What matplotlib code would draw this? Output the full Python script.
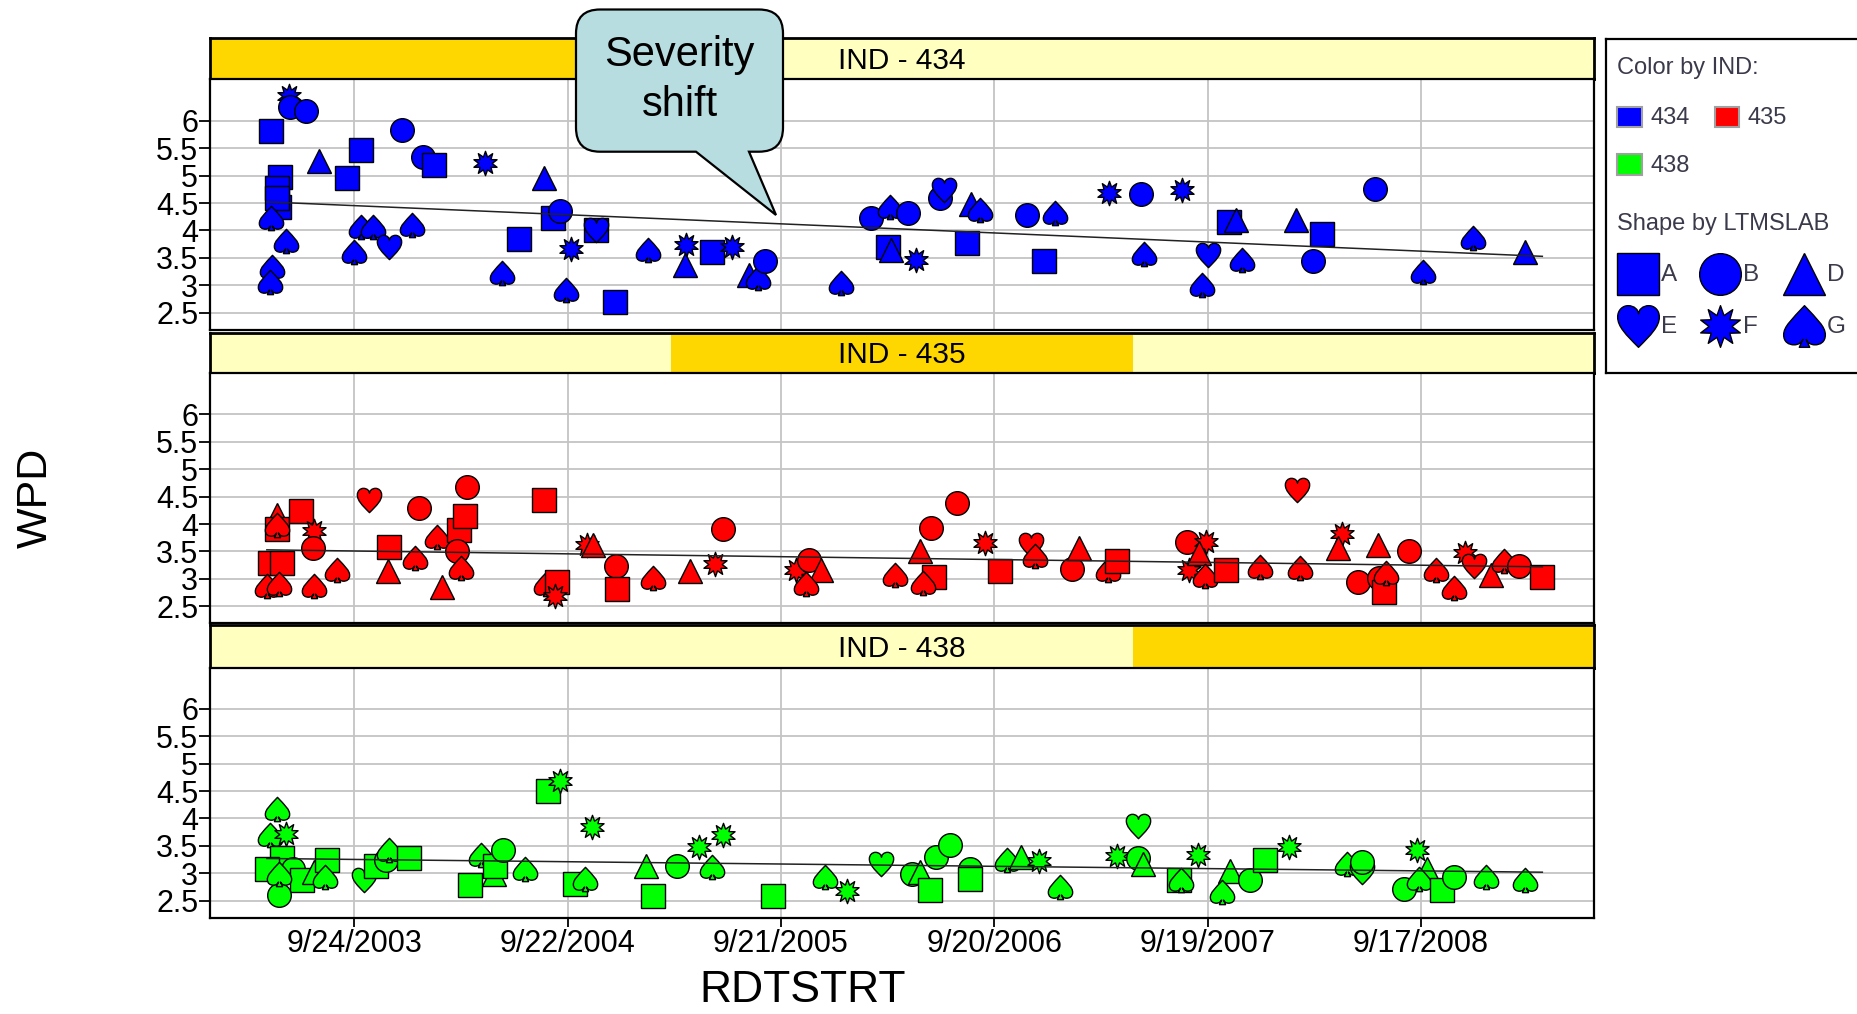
import matplotlib
matplotlib.use("Agg")
import matplotlib.pyplot as plt
import matplotlib.dates as mdates
from matplotlib.path import Path
from matplotlib.patches import PathPatch, Rectangle
import numpy as np
import pandas as pd

plt.rcParams['font.family'] = ['Liberation Sans', 'DejaVu Sans']

# ---------------- data ----------------
dates_434 = [
    '2003-06-05', '2003-06-07', '2003-07-03', '2003-05-05', '2003-12-15', '2003-10-05', '2003-07-26', '2004-01-20', '2004-02-07', '2004-05-05',
    '2004-08-13', '2003-09-11', '2003-05-21', '2003-05-15', '2003-05-18', '2003-05-16', '2003-05-05', '2003-05-30', '2003-05-07', '2003-05-04',
    '2003-10-06', '2003-10-26', '2004-01-01', '2003-09-24', '2003-11-22', '2004-06-02', '2004-07-02', '2004-08-28', '2004-09-09', '2004-09-28',
    '2004-09-19', '2004-12-12', '2004-11-10', '2004-11-10', '2005-02-07', '2005-04-12', '2005-04-11', '2005-05-27', '2005-06-29', '2005-07-28',
    '2005-08-13', '2005-08-25', '2006-01-01', '2006-02-22', '2006-03-26', '2006-04-26', '2006-03-23', '2006-03-28', '2006-05-10', '2006-06-20',
    '2006-06-27', '2006-08-11', '2006-08-26', '2006-08-04', '2006-11-15', '2007-01-01', '2006-12-13', '2007-04-03', '2007-05-28', '2007-08-06',
    '2007-06-03', '2007-09-20', '2007-09-09', '2007-11-16', '2007-10-25', '2007-11-07', '2008-02-17', '2008-04-01', '2008-03-17', '2008-07-01',
    '2008-09-21', '2008-12-14', '2009-03-14']
wpd_434 = [
    6.44, 6.24, 6.18, 5.81, 5.82, 5.47, 5.27, 5.34, 5.20, 5.22,
    4.95, 4.95, 4.98, 4.77, 4.43, 4.59, 4.22, 3.81, 3.34, 3.07,
    4.07, 4.06, 4.10, 3.61, 3.70, 3.22, 3.84, 4.23, 4.36, 3.67,
    2.92, 2.70, 4.01, 4.01, 3.64, 3.74, 3.37, 3.60, 3.70, 3.19,
    3.13, 3.45, 3.04, 4.22, 4.43, 4.32, 3.70, 3.64, 3.46, 4.59,
    4.74, 4.49, 4.37, 3.78, 4.28, 4.31, 3.44, 4.68, 4.66, 4.74,
    3.57, 3.55, 3.00, 3.47, 4.15, 4.19, 4.19, 3.93, 3.44, 4.76,
    3.25, 3.86, 3.60]
lab_434 = list("FBBABADBAF" "DAAAAAGGGG" "GGGGEGAABF" "GAAEGFDAFD"
               "GBGBGBADFB" "EDGABGAFBF" "GEGGADDABB" "GGD")

dates_435 = [
    '2003-05-15', '2003-05-15', '2003-05-15', '2003-06-25', '2003-07-17', '2003-07-15', '2003-05-04', '2003-05-24', '2003-04-28', '2003-05-18',
    '2003-07-17', '2003-08-26', '2003-10-19', '2003-11-23', '2003-11-21', '2004-01-05', '2004-01-12', '2004-02-12', '2004-02-20', '2004-03-20',
    '2004-03-31', '2004-04-04', '2004-03-18', '2004-03-25', '2004-08-12', '2004-10-26', '2004-11-05', '2004-08-17', '2004-09-04', '2004-09-01',
    '2004-12-14', '2004-12-16', '2005-02-14', '2005-04-19', '2005-06-15', '2005-06-01', '2005-10-17', '2005-11-08', '2005-11-29', '2005-11-02',
    '2006-04-03', '2006-05-17', '2006-06-04', '2006-07-19', '2006-06-10', '2006-05-21', '2006-09-05', '2006-09-30', '2006-11-21', '2006-11-29',
    '2007-01-30', '2007-02-12', '2007-04-02', '2007-04-17', '2007-08-15', '2007-09-17', '2007-08-19', '2007-09-04', '2007-09-15', '2007-10-21',
    '2007-12-18', '2008-02-19', '2008-02-24', '2008-05-05', '2008-04-28', '2008-07-06', '2008-08-27', '2008-06-01', '2008-07-07', '2008-07-16',
    '2008-07-20', '2008-10-13', '2008-11-13', '2008-12-01', '2008-12-16', '2009-01-14', '2009-02-06', '2009-03-03', '2009-04-12']
wpd_435 = [
    4.17, 3.91, 3.99, 4.24, 3.87, 3.56, 3.29, 3.29, 2.87, 2.90,
    2.87, 3.17, 4.43, 3.58, 3.14, 3.38, 4.29, 3.76, 2.86, 3.89,
    4.14, 4.68, 3.50, 3.20, 4.44, 3.62, 3.62, 2.90, 2.94, 2.68,
    3.23, 2.82, 3.02, 3.14, 3.91, 3.27, 3.17, 3.35, 3.16, 2.90,
    3.08, 3.50, 3.92, 4.39, 3.03, 2.93, 3.65, 3.14, 3.62, 3.41,
    3.18, 3.56, 3.17, 3.32, 3.67, 3.67, 3.17, 3.47, 3.06, 3.17,
    3.22, 4.62, 3.20, 3.82, 3.56, 3.62, 3.50, 2.94, 3.02, 2.76,
    3.11, 3.17, 2.83, 3.47, 3.23, 3.08, 3.33, 3.23, 3.03]
lab_435 = list("DAGAFBAAGG" "GGEADGBGDA" "ABBGAFDGAF" "BAGDBFFBDG"
               "GDBBAGFAEG" "BDGABFFDGA" "GEGFDDBBBA" "GGGFEDGBA")

dates_438 = [
    '2003-05-15', '2003-05-04', '2003-05-30', '2003-05-23', '2003-04-28', '2003-06-12', '2003-06-27', '2003-05-18', '2003-05-18', '2003-07-17',
    '2003-08-09', '2003-08-06', '2003-10-10', '2003-11-01', '2003-11-17', '2003-11-23', '2003-12-27', '2004-04-09', '2004-04-27', '2004-05-19',
    '2004-05-22', '2004-06-04', '2004-07-12', '2004-08-19', '2004-09-09', '2004-10-05', '2004-10-21', '2004-11-03', '2005-02-14', '2005-02-02',
    '2005-03-28', '2005-05-26', '2005-05-05', '2005-06-14', '2005-09-07', '2005-12-05', '2006-01-12', '2006-03-11', '2006-05-03', '2006-05-17',
    '2006-06-12', '2006-07-07', '2006-06-03', '2006-08-09', '2006-08-10', '2006-10-11', '2006-11-04', '2006-12-06', '2007-01-10', '2007-04-18',
    '2007-05-24', '2007-05-24', '2007-05-31', '2007-08-01', '2007-08-04', '2007-09-03', '2007-10-27', '2007-10-14', '2007-11-30', '2007-12-26',
    '2008-02-05', '2008-05-13', '2008-06-09', '2008-06-09', '2008-08-19', '2008-09-10', '2008-09-27', '2008-09-14', '2008-10-23', '2008-11-13',
    '2009-01-06', '2009-03-14']
wpd_438 = [
    4.18, 3.69, 3.72, 3.28, 3.08, 3.08, 2.87, 2.61, 2.98, 3.02,
    3.24, 2.93, 2.87, 3.14, 3.24, 3.42, 3.27, 2.78, 3.33, 2.99,
    3.13, 3.43, 3.08, 4.50, 4.68, 2.81, 2.90, 3.84, 2.58, 3.14,
    3.13, 3.11, 3.48, 3.69, 2.58, 2.93, 2.67, 3.17, 2.98, 3.02,
    3.30, 3.51, 2.69, 3.08, 2.90, 3.24, 3.30, 3.22, 2.75, 3.31,
    3.87, 3.27, 3.17, 2.87, 2.87, 3.33, 3.04, 2.66, 2.87, 3.24,
    3.48, 3.17, 3.02, 3.20, 2.72, 3.42, 3.08, 2.90, 2.69, 2.94,
    2.93, 2.87]
lab_438 = list("GGFAABABGD" "AGEABGAAGD" "ABGAFAGFAD" "BGFFAGFEBD"
               "BBABAGDFGF" "EBDAGFDGBA" "FGEBBFDGAB" "GG")

# fitted line end values (first test date -> last test date)
trend_434 = [4.52, 3.53]
trend_435 = [3.53, 3.22]
trend_438 = [3.27, 3.02]

inds = ['434', '435', '438']
ind_colors = ['#0000FF', '#FF0000', '#00FF00']
labs = ['A', 'B', 'D', 'E', 'F', 'G']
tick_dates = ['2003-09-24', '2004-09-22', '2005-09-21', '2006-09-20', '2007-09-19', '2008-09-17']
y_ticks = [2.5, 3, 3.5, 4, 4.5, 5, 5.5, 6]

panels = [(dates_434, wpd_434, lab_434, trend_434),
          (dates_435, wpd_435, lab_435, trend_435),
          (dates_438, wpd_438, lab_438, trend_438)]


# ---------------- marker shapes ----------------
def heart_path():
    verts = [(0, -1),
             (-0.6, -0.4), (-1.0, 0.0), (-1.0, 0.45),
             (-1.0, 0.8), (-0.75, 1.0), (-0.5, 1.0),
             (-0.2, 1.0), (0, 0.8), (0, 0.6),
             (0, 0.8), (0.2, 1.0), (0.5, 1.0),
             (0.75, 1.0), (1.0, 0.8), (1.0, 0.45),
             (1.0, 0.0), (0.6, -0.4), (0, -1),
             (0, -1)]
    codes = [Path.MOVETO] + [Path.CURVE4] * 18 + [Path.CLOSEPOLY]
    return Path(verts, codes)


def spade_path():
    verts = [(0, 1),
             (-0.6, 0.35), (-1.0, 0.0), (-1.0, -0.4),
             (-1.0, -0.75), (-0.75, -0.88), (-0.5, -0.88),
             (-0.28, -0.88), (-0.12, -0.75), (-0.08, -0.62),
             (-0.25, -1.0), (0.25, -1.0), (0.08, -0.62),
             (0.12, -0.75), (0.28, -0.88), (0.5, -0.88),
             (0.75, -0.88), (1.0, -0.75), (1.0, -0.4),
             (1.0, 0.0), (0.6, 0.35), (0, 1),
             (0, 1)]
    codes = ([Path.MOVETO] + [Path.CURVE4] * 9 + [Path.LINETO] * 3 +
             [Path.CURVE4] * 9 + [Path.CLOSEPOLY])
    return Path(verts, codes)


def star_path(n=10, inner=0.55):
    ang = np.pi / 2 + np.arange(2 * n) * np.pi / n
    rad = np.where(np.arange(2 * n) % 2 == 0, 1.0, inner)
    pts = np.column_stack([rad * np.cos(ang), rad * np.sin(ang)])
    pts = np.vstack([pts, pts[:1]])
    codes = [Path.MOVETO] + [Path.LINETO] * (2 * n - 1) + [Path.CLOSEPOLY]
    return Path(pts, codes)


shape_of = {'A': 's', 'B': 'o', 'D': '^', 'E': heart_path(), 'F': star_path(), 'G': spade_path()}
size_of = {'A': 17, 'B': 17, 'D': 17.5, 'E': 17.5, 'F': 17.5, 'G': 17.5}

# ---------------- layout (pixels) ----------------
W, H = 1858, 1014
fig = plt.figure(figsize=(W / 100, H / 100), dpi=100)
fig.patch.set_facecolor('white')


def px_rect(x0, y0, x1, y1):
    return [x0 / W, 1 - y1 / H, (x1 - x0) / W, (y1 - y0) / H]


X0, X1 = 210, 1594.5
strip_y = [(38.3, 79.3), (332.7, 373.3), (625.0, 667.7)]
plot_y = [(79.3, 330.0), (373.3, 623.3), (667.7, 917.7)]

gold, pale = '#FFD700', '#FFFFBF'
xlim = mdates.date2num(pd.to_datetime(['2003-01-21', '2009-07-10']))
xt = mdates.date2num(pd.to_datetime(tick_dates))
xt_labels = [f"{d.month}/{d.day}/{d.year}" for d in pd.to_datetime(tick_dates)]

all_dates = pd.to_datetime(dates_434 + dates_435 + dates_438)
trend_x = mdates.date2num([all_dates.min(), all_dates.max()])

for k, (dts, wpd, lab, trend) in enumerate(panels):
    # strip
    sx = fig.add_axes(px_rect(X0, strip_y[k][0], X1, strip_y[k][1]))
    sx.set_xlim(0, 3)
    sx.set_ylim(0, 1)
    sx.set_facecolor(pale)
    sx.axvspan(k, k + 1, color=gold, lw=0)
    sx.set_xticks([])
    sx.set_yticks([])
    for s in sx.spines.values():
        s.set_linewidth(2)
    sx.text(1.5, 0.245, f"IND - {inds[k]}", ha='center', va='baseline',
            fontsize=21.5, color='black')

    # scatter panel
    ax = fig.add_axes(px_rect(X0, plot_y[k][0], X1, plot_y[k][1]))
    ax.set_xlim(*xlim)
    ax.set_ylim(2.19, 6.75)
    ax.set_yticks(y_ticks)
    ax.set_yticklabels([f"{v:g}" for v in y_ticks])
    ax.set_xticks(xt)
    ax.grid(True, color='#C4C4C4', lw=1.3, zorder=0)
    ax.set_axisbelow(True)
    for s in ax.spines.values():
        s.set_linewidth(1.6)
    ax.tick_params(axis='y', length=8, width=1.3, pad=0.5, labelsize=22)
    if k < 2:
        ax.tick_params(axis='x', length=0, labelbottom=False)
    else:
        ax.set_xticklabels(xt_labels)
        ax.tick_params(axis='x', length=6.5, width=1.3, pad=1.5, labelsize=22)

    xd = mdates.date2num(pd.to_datetime(dts))
    for xv, yv, lb in zip(xd, wpd, lab):
        ax.plot(xv, yv, ls='none', marker=shape_of[lb], ms=size_of[lb],
                mfc=ind_colors[k], mec='black', mew=1.0, zorder=3)
    ax.plot(trend_x, trend, color='#222222', lw=1.1, zorder=4)

fig.text(36 / W, 1 - 498 / H, 'WPD', rotation=90, ha='center', va='center', fontsize=31)
fig.text(803 / W, 1 - 1011 / H, 'RDTSTRT', ha='center', va='bottom', fontsize=32)

# ---------------- legend ----------------
lg = fig.add_axes(px_rect(1606, 39, 1900, 373))
lg.set_xlim(1606, 1900)
lg.set_ylim(373, 39)
lg.set_xticks([])
lg.set_yticks([])
for s in lg.spines.values():
    s.set_linewidth(1.6)
txt_col = '#3a3a4a'
lg.text(1617, 68, 'Color by IND:', ha='left', va='center', fontsize=17, color=txt_col)
swatches = [(1617, 107, 25, 20), (1715, 107, 24, 20), (1617, 154, 25, 21)]
for (sx0, sy0, sw, sh), c, name in zip(swatches, ind_colors, inds):
    lg.add_patch(Rectangle((sx0, sy0), sw, sh, facecolor=c, edgecolor='#A0A0A0', lw=1.5))
    lg.text(sx0 + sw + 9, sy0 + sh / 2 + 1, name, ha='left', va='center', fontsize=17, color=txt_col)
lg.text(1617, 224, 'Shape by LTMSLAB', ha='left', va='center', fontsize=17, color=txt_col)
leg_pos = {'A': (1638, 274), 'B': (1720, 274), 'D': (1804, 274),
           'E': (1638, 326), 'F': (1720, 326), 'G': (1804, 326)}
for lb in labs:
    cx, cy = leg_pos[lb]
    lg.plot(cx, cy, ls='none', marker=shape_of[lb], ms=30, mfc='#0000FF',
            mec='black', mew=1.0, clip_on=False)
    lg.text(cx + 23, cy + 1, lb, ha='left', va='center', fontsize=17.5, color=txt_col)

# ---------------- callout ----------------
ov = fig.add_axes([0, 0, 1, 1], zorder=10)
ov.set_xlim(0, W)
ov.set_ylim(H, 0)
ov.axis('off')
bx0, by0, bx1, by1, r = 576, 9.5, 783, 151.7, 24
ta, tb, tip = 696, 749, (776, 215)
verts = [(bx0 + r, by0), (bx1 - r, by0),
         (bx1, by0), (bx1, by0 + r),
         (bx1, by1 - r),
         (bx1, by1), (bx1 - r, by1),
         (tb, by1), tip, (ta, by1),
         (bx0 + r, by1),
         (bx0, by1), (bx0, by1 - r),
         (bx0, by0 + r),
         (bx0, by0), (bx0 + r, by0),
         (bx0 + r, by0)]
codes = [Path.MOVETO, Path.LINETO,
         Path.CURVE3, Path.CURVE3,
         Path.LINETO,
         Path.CURVE3, Path.CURVE3,
         Path.LINETO, Path.LINETO, Path.LINETO,
         Path.LINETO,
         Path.CURVE3, Path.CURVE3,
         Path.LINETO,
         Path.CURVE3, Path.CURVE3,
         Path.CLOSEPOLY]
ov.add_patch(PathPatch(Path(verts, codes), facecolor='#B8DDE1', edgecolor='black', lw=1.6))
ov.text(679.5, 66, 'Severity', ha='center', va='baseline', fontsize=30)
ov.text(679.5, 116.5, 'shift', ha='center', va='baseline', fontsize=30)

fig.savefig('out.png', dpi=100)
